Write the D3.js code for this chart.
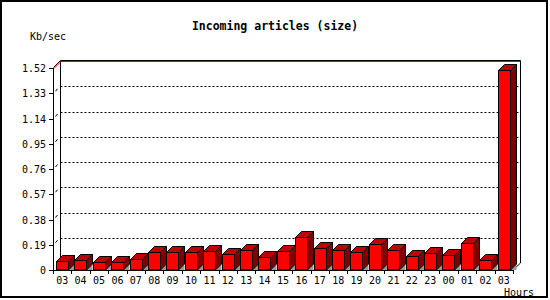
<!DOCTYPE html>
<html>
<head>
<meta charset="utf-8">
<script src="https://cdn.jsdelivr.net/npm/d3@7"></script>
<style>
  body { margin: 0; background: #fff; }
  svg text { font-family: "DejaVu Sans Mono", monospace; fill: #000; }
</style>
</head>
<body>
<svg id="chart" width="550" height="300"></svg>
<script>
// hours shown under the bars
const hours = ["03", "04", "05", "06", "07", "08", "09", "10", "11", "12", "13", "14",
  "15", "16", "17", "18", "19", "20", "21", "22", "23", "00", "01", "02", "03"];
// incoming size, Kb/sec
const sizeKb = [0.068, 0.075, 0.058, 0.058, 0.085, 0.133, 0.133, 0.135, 0.143, 0.118, 0.148, 0.095,
  0.143, 0.245, 0.163, 0.148, 0.133, 0.193, 0.148, 0.103, 0.125, 0.11, 0.2, 0.073, 1.505];
const yTicks = [0, 0.19, 0.38, 0.57, 0.76, 0.95, 1.14, 1.33, 1.52];
const yMax = 1.52;

const svg = d3.select("#chart");
const depth = 7;     // back wall offset
const barDepth = 6;  // bar 3d offset

// outer frame
svg.append("rect")
  .attr("x", 1).attr("y", 1).attr("width", 546).attr("height", 296)
  .attr("fill", "#fff").attr("stroke", "#000").attr("stroke-width", 2);

const x = d3.scaleBand().domain(d3.range(hours.length)).range([53, 513]).padding(0);
const y = d3.scaleLinear().domain([0, yMax]).range([270, 68]);

const x0 = 53.5, x1 = 513;
const yTop = y(yMax);

// grid lines on back wall
svg.append("g").selectAll("line")
  .data(yTicks.slice(1, -1))
  .join("line")
  .attr("x1", x0 + depth).attr("x2", x1 + depth)
  .attr("y1", (d) => Math.round(y(d) - depth) + 0.5)
  .attr("y2", (d) => Math.round(y(d) - depth) + 0.5)
  .attr("stroke", "#000").attr("stroke-dasharray", "2,2");

// back wall outline
svg.append("path")
  .attr("d", `M${x0},${yTop - 0.5} L${x0 + depth},${yTop - depth - 0.5} L${x1 + depth + 0.5},${yTop - depth - 0.5}
    L${x1 + depth + 0.5},${270 - depth} L${x1},270`)
  .attr("fill", "none").attr("stroke", "#000");
svg.append("line")
  .attr("x1", x0 + depth).attr("x2", x0 + depth)
  .attr("y1", yTop - depth).attr("y2", 270 - depth)
  .attr("stroke", "#000");

// max line
svg.append("path")
  .attr("d", `M${x0 + 0.5},${yTop + 0.5} L${x0 + depth + 0.5},${yTop - depth + 0.5} L${x1 + depth},${yTop - depth + 0.5}`)
  .attr("fill", "none").attr("stroke", "#f00");

// front y axis
svg.append("line")
  .attr("x1", x0).attr("x2", x0).attr("y1", yTop).attr("y2", 270)
  .attr("stroke", "#000");
const yt = svg.append("g").selectAll("g").data(yTicks).join("g");
yt.append("line")
  .attr("x1", 49).attr("x2", x0)
  .attr("y1", (d) => Math.round(y(d)) + 0.5).attr("y2", (d) => Math.round(y(d)) + 0.5)
  .attr("stroke", "#000");
yt.filter((d) => d > 0 && d < yMax).append("line")
  .attr("x1", 55.5).attr("x2", 57.5)
  .attr("y1", (d) => y(d) - 2).attr("y2", (d) => y(d) - 4.5)
  .attr("stroke", "#000");
yt.append("text")
  .attr("x", 46).attr("y", (d) => y(d) + 4)
  .attr("text-anchor", "end").attr("font-size", 10)
  .text((d) => (d === 0 ? "0" : d.toFixed(2)));

// x axis
svg.append("line")
  .attr("x1", x0).attr("x2", x1).attr("y1", 270.5).attr("y2", 270.5)
  .attr("stroke", "#000");
svg.append("g").selectAll("line")
  .data(d3.range(hours.length + 1))
  .join("line")
  .attr("x1", (i) => Math.round(53 + i * x.bandwidth()) + 0.5)
  .attr("x2", (i) => Math.round(53 + i * x.bandwidth()) + 0.5)
  .attr("y1", 270).attr("y2", 274)
  .attr("stroke", "#000");

// bars
const bw = 12;
const bars = svg.append("g").selectAll("g").data(sizeKb).join("g");
const bx = (i) => Math.round(x(i) + 3) + 0.5;
const by = (d) => Math.round(y(d)) + 0.5;

bars.append("path")
  .attr("d", (d, i) => `M${bx(i) + bw},270 L${bx(i) + bw + barDepth},${270 - barDepth} L${bx(i) + bw + barDepth},270 Z`)
  .attr("fill", "#999");
bars.append("rect")
  .attr("x", (d, i) => bx(i)).attr("y", (d) => by(d))
  .attr("width", bw).attr("height", (d) => 270 - by(d))
  .attr("fill", "#f00").attr("stroke", "#000");
bars.append("path")
  .attr("d", (d, i) => `M${bx(i) + bw},${by(d)} L${bx(i) + bw + barDepth},${by(d) - barDepth}
    L${bx(i) + bw + barDepth},${270 - barDepth} L${bx(i) + bw},270 Z`)
  .attr("fill", "#800000").attr("stroke", "#000");
bars.append("path")
  .attr("d", (d, i) => `M${bx(i)},${by(d)} L${bx(i) + barDepth},${by(d) - barDepth}
    L${bx(i) + bw + barDepth},${by(d) - barDepth} L${bx(i) + bw},${by(d)} Z`)
  .attr("fill", "#c00000").attr("stroke", "#000");

// x labels
svg.append("g").selectAll("text")
  .data(hours)
  .join("text")
  .attr("x", (d, i) => x(i) + x.bandwidth() / 2)
  .attr("y", 284)
  .attr("text-anchor", "middle").attr("font-size", 10)
  .text((d) => d);

// titles
svg.append("text")
  .attr("x", 275).attr("y", 30)
  .attr("text-anchor", "middle").attr("font-size", 11.5).attr("font-weight", "bold")
  .text("Incoming articles (size)");
svg.append("text")
  .attr("x", 30).attr("y", 40).attr("font-size", 10)
  .text("Kb/sec");
svg.append("text")
  .attr("x", 504).attr("y", 296).attr("font-size", 10)
  .text("Hours");
</script>
</body>
</html>
